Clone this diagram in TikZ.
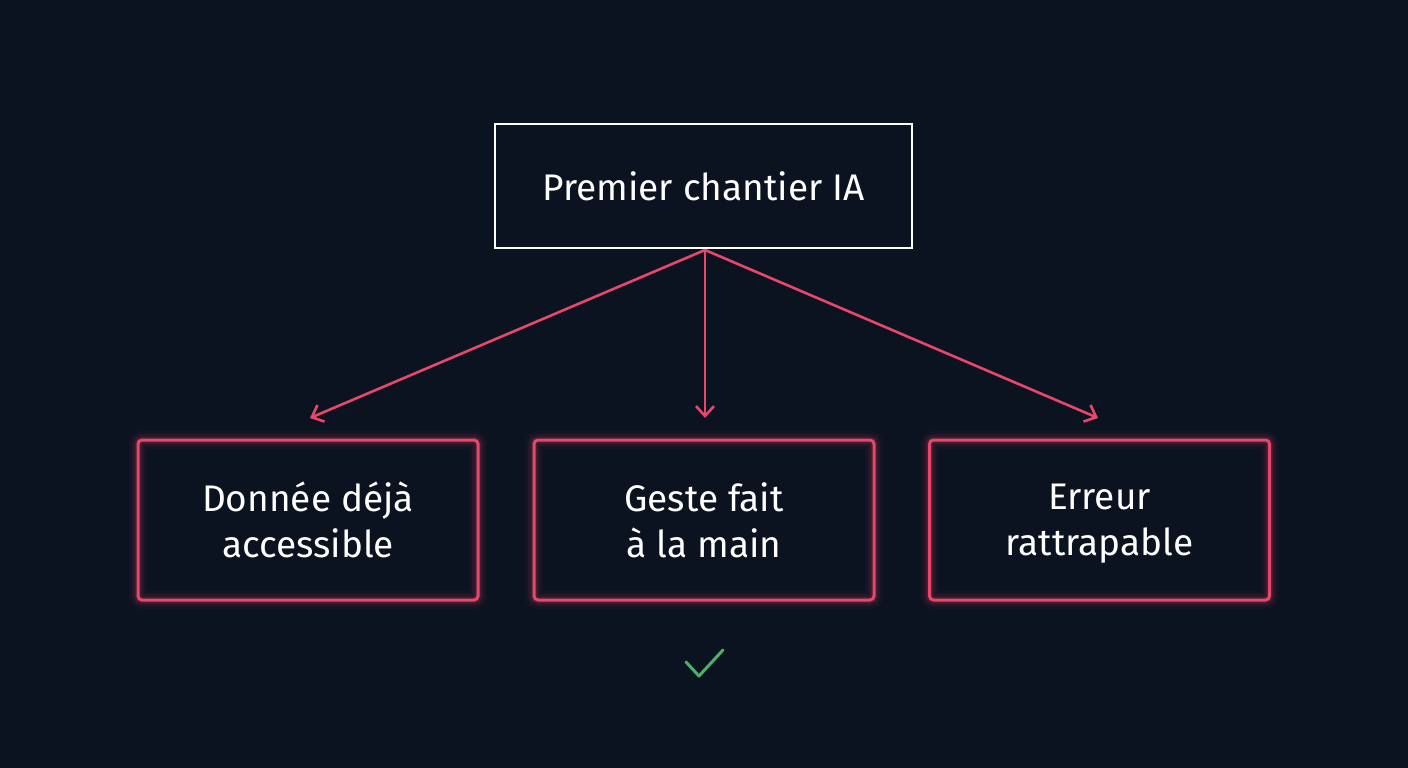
\documentclass[tikz,border=0pt]{standalone}
\usepackage{fontspec}
\setmainfont{Fira Sans}
\usetikzlibrary{arrows.meta}
\definecolor{bg}{HTML}{0B1220}
\definecolor{pk}{HTML}{E8476A}
\definecolor{gr}{HTML}{4CAF6A}
\begin{document}
\begin{tikzpicture}[x=1pt,y=-1pt,
  lbl/.style={text=white,font=\fontsize{37}{46}\selectfont,align=center},
  box/.style={draw=pk,line width=3pt,rounded corners=4pt},
  arr/.style={draw=pk,line width=2.6pt,-{Straight Barb[length=10pt,width=18pt]}}]
\fill[bg] (0,0) rectangle (1408,768);
\useasboundingbox (0,0) rectangle (1408,768);
% top node
\node[draw=white,line width=1.8pt,minimum width=417pt,minimum height=124pt,lbl] (top) at (703.5,186) {Premier chantier IA};
% glow + boxes
\foreach \n/\cx/\t in {a/308/{Donnée déjà\\accessible},b/704/{Geste fait\\à la main},c/1099.5/{Erreur\strut\\rattrapable}}{
  \foreach \w/\o in {18/0.05,12/0.08,7/0.14}
    \draw[pk,line width=\w pt,opacity=\o,rounded corners=4pt] (\cx-170,440) rectangle (\cx+170,600);
  \node[box,minimum width=340pt,minimum height=160pt,lbl] (\n) at (\cx,520) {\t};
}
\coordinate (s) at (705,250);
\coordinate (ea) at (310,418);
\coordinate (eb) at (705,418);
\coordinate (ec) at (1098,418);
\draw[arr] (s) -- (ea);
\draw[arr] (s) -- (eb);
\draw[arr] (s) -- (ec);
\coordinate (c1) at (686,662);
\coordinate (c2) at (699,676);
\coordinate (c3) at (723,650);
\draw[gr,line width=3pt,line cap=round,line join=round] (c1) -- (c2) -- (c3);
\end{tikzpicture}
\end{document}
